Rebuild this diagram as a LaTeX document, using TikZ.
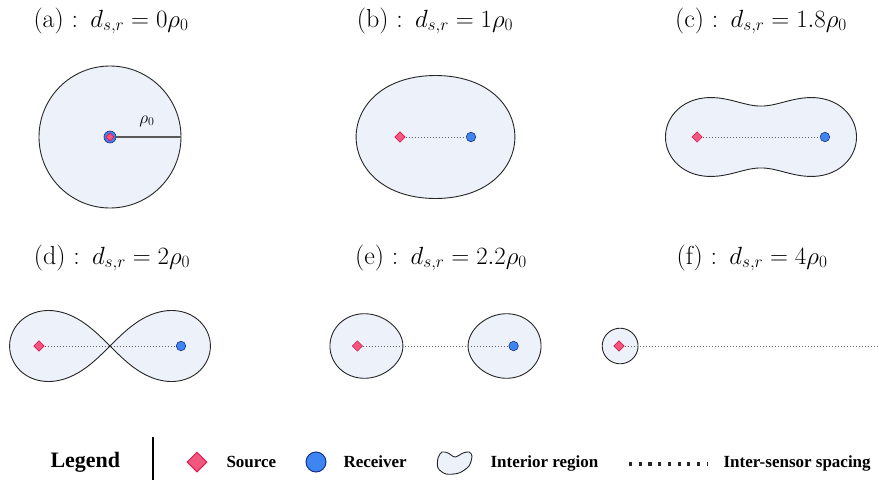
\documentclass[tikz,border=0pt]{standalone}
\usepackage{fontspec}
\newfontfamily\legendfont{Liberation Serif}
\usetikzlibrary{shapes.geometric,positioning}
\definecolor{regionfill}{HTML}{ECF1FA}
\definecolor{srcfill}{HTML}{F2577F}
\definecolor{srcdraw}{HTML}{DE1A4E}
\definecolor{rcvfill}{HTML}{3D86F2}
\definecolor{rcvdraw}{HTML}{1C2E87}

\begin{document}
\begin{tikzpicture}[x=1pt, y=-1pt,
interior/.style={draw=black!85, line width=0.9pt, fill=regionfill},
source/.style={diamond, draw=srcdraw, fill=srcfill, line width=0.6pt, inner sep=0pt, minimum size=10.5pt},
receiver/.style={circle, draw=rcvdraw, fill=rcvfill, line width=0.6pt, inner sep=0pt, minimum size=9.5pt},
spacing/.style={draw=black!60, line width=0.8pt, dash pattern=on 1.2pt off 1.8pt},
rhoarm/.style={draw=black!65, line width=1.1pt},
title/.style={anchor=base, font=\fontsize{26}{31}\selectfont},
legendtext/.style={anchor=base west, font=\legendfont\bfseries\fontsize{17}{20}\selectfont},
declare function={
  rin(\t,\a)=sqrt(\a*\a*cos(2*\t)+sqrt(1-\a*\a*\a*\a*sin(2*\t)*sin(2*\t)));
  lmod(\p,\a)=sqrt(sqrt(\a*\a*\a*\a+2*\a*\a*cos(\p)+1));
  larg(\p,\a)=atan2(sin(\p),\a*\a+cos(\p))/2;
}]
\useasboundingbox (0,0) rectangle (879,482);

% titles
\node[title] (ta) at (111,27) {(a)~:\ \,$d_{s,r}=0\rho_0$};
\node[title] (tb) at (435,27) {(b)~:\ \,$d_{s,r}=1\rho_0$};
\node[title] (tc) at (761,27) {(c)~:\ \,$d_{s,r}=1.8\rho_0$};
\node[title] (td) at (112,264) {(d)~:\ \,$d_{s,r}=2\rho_0$};
\node[title] (te) at (441,264) {(e)~:\ \,$d_{s,r}=2.2\rho_0$};
\node[title] (tf) at (752,264) {(f)~:\ \,$d_{s,r}=4\rho_0$};

% interior regions (rho_0 = 71)
\draw[interior] (110,137) circle[radius=71];
\draw[interior] plot[domain=0:360, samples=181, smooth] ({435.5+71*rin(\x,0.5)*cos(\x)}, {137+71*rin(\x,0.5)*sin(\x)}) -- cycle;
\draw[interior] plot[domain=0:360, samples=181, smooth] ({761+71*rin(\x,0.9)*cos(\x)}, {137+71*rin(\x,0.9)*sin(\x)}) -- cycle;
\draw[interior] plot[domain=0:360, samples=181, smooth] ({110+71*sqrt(2)*cos(\x)/(1+sin(\x)*sin(\x))}, {346+71*sqrt(2)*sin(\x)*cos(\x)/(1+sin(\x)*sin(\x))}) -- cycle;
\draw[interior] plot[domain=0:360, samples=121, smooth] ({435.5-71*lmod(\x,1.1)*cos(larg(\x,1.1))}, {346-71*lmod(\x,1.1)*sin(larg(\x,1.1))}) -- cycle;
\draw[interior] plot[domain=0:360, samples=121, smooth] ({435.5+71*lmod(\x,1.1)*cos(larg(\x,1.1))}, {346+71*lmod(\x,1.1)*sin(larg(\x,1.1))}) -- cycle;
\draw[interior] plot[domain=0:360, samples=121, smooth] ({761-71*lmod(\x,2)*cos(larg(\x,2))}, {346-71*lmod(\x,2)*sin(larg(\x,2))}) -- cycle;

% sensors
\node[receiver, minimum size=12pt] (ra) at (110,137) {};
\node[source, minimum size=8.5pt] (sa) at (110,137) {};
\coordinate (rimA) at (181,137);
\draw[rhoarm] (ra.east) -- (rimA);
\node[font=\fontsize{17}{20}\selectfont] (rho) at (147,121) {$\rho_0$};

\node[source] (sb) at (400,137) {};
\node[receiver] (rb) at (471,137) {};
\draw[spacing] (sb) -- (rb);
\node[source] (sc) at (697.1,137) {};
\node[receiver] (rc) at (824.9,137) {};
\draw[spacing] (sc) -- (rc);
\node[source] (sd) at (39,346) {};
\node[receiver] (rd) at (181,346) {};
\draw[spacing] (sd) -- (rd);
\node[source] (se) at (357.4,346) {};
\node[receiver] (re) at (513.6,346) {};
\draw[spacing] (se) -- (re);
\node[source] (sf) at (619,346) {};
\coordinate (rimF) at (879,346);
\draw[spacing] (sf) -- (rimF);

% legend
\node[legendtext, font=\legendfont\bfseries\fontsize{22}{26}\selectfont] (legend) at (47,467) {Legend};
\draw[line width=1.6pt] (153,437) -- (153,480);
\node[source, minimum size=20pt, line width=1pt] (lsrc) at (197,462) {};
\node[legendtext] (lsrctext) at (223,467) {Source};
\node[receiver, minimum size=20pt, line width=1pt] (lrcv) at (316,462) {};
\node[legendtext] (lrcvtext) at (340,467) {Receiver};
\draw[interior] plot[smooth cycle] coordinates {(438,458) (442,452) (448,453) (455,457) (463,453) (469,452) (472,456) (469,466) (459,473) (446,474) (438,468)};
\node[legendtext] (lregtext) at (487,467) {Interior region};
\coordinate (ldotL) at (629,464);
\coordinate (ldotR) at (708,464);
\draw[black!85, line width=3.2pt, dash pattern=on 3.2pt off 6.5pt] (ldotL) -- (ldotR);
\node[legendtext] (lsptext) at (720,467) {Inter-sensor spacing};
\end{tikzpicture}
\end{document}
